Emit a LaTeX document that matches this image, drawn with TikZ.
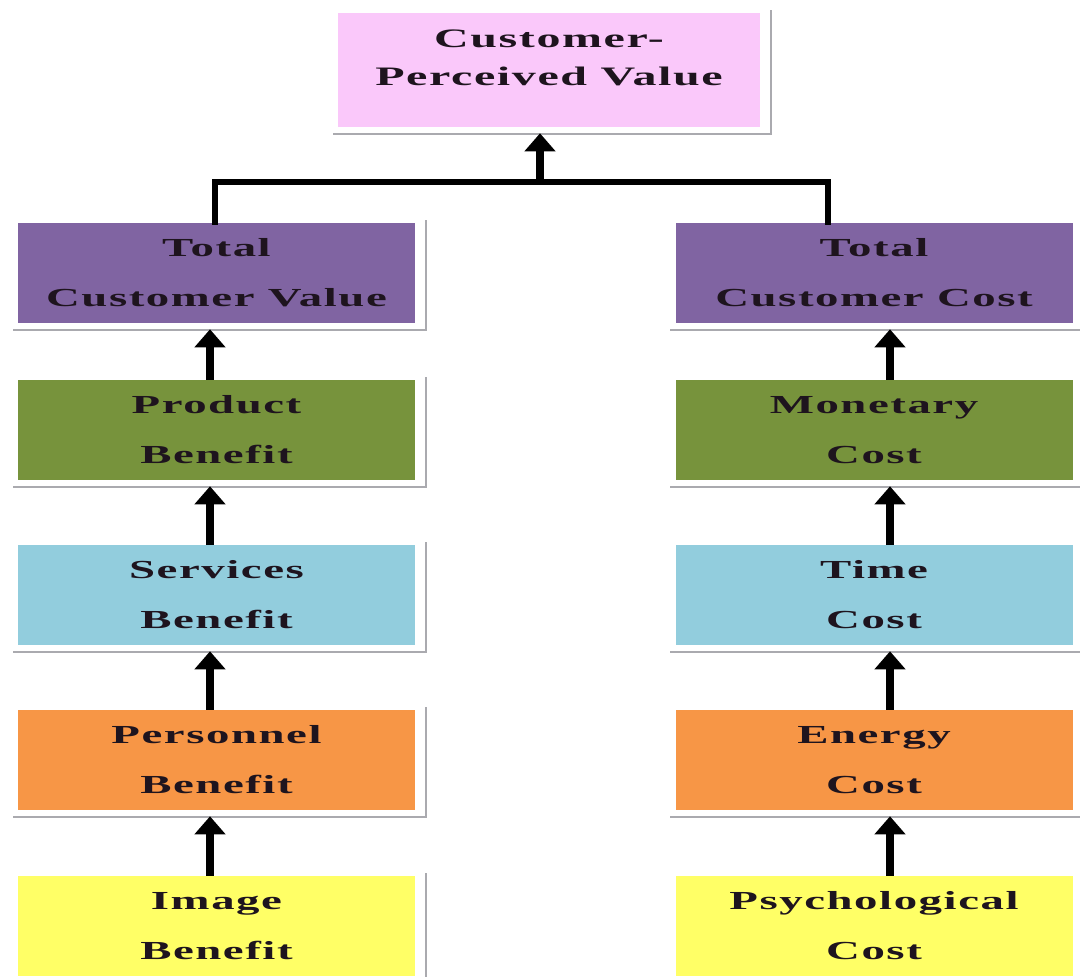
\documentclass[tikz,border=0pt]{standalone}
\usepackage{fontspec}
\setmainfont{Liberation Serif}
\newfontfamily\boxfont[FakeStretch=1.8,LetterSpace=6]{Liberation Serif}
\usetikzlibrary{arrows.meta}
\definecolor{cpink}{RGB}{250,200,250}
\definecolor{cpurple}{RGB}{128,100,162}
\definecolor{cgreen}{RGB}{119,147,60}
\definecolor{cblue}{RGB}{146,205,221}
\definecolor{corange}{RGB}{247,150,70}
\definecolor{cyellow}{RGB}{255,255,102}
\definecolor{ctext}{RGB}{30,20,30}
\definecolor{cshadow}{RGB}{170,170,175}
\pgfdeclarelayer{bg}
\pgfsetlayers{bg,main}
\tikzset{
  box/.style={rectangle, inner sep=0pt, minimum width=297.75pt, minimum height=75pt,
    align=center, text=ctext, font=\boxfont\bfseries\fontsize{19.5}{37.5}\selectfont},
  topbox/.style={rectangle, inner sep=0pt, minimum width=316.5pt, minimum height=85.5pt, fill=cpink},
  toptext/.style={inner sep=0pt, align=center, text=ctext,
    font=\boxfont\bfseries\fontsize{20}{29}\selectfont},
  upar/.style={line width=5.5pt, -{Triangle[width=22.5pt,length=13.5pt]}, shorten >=4.5pt},
  conn/.style={line width=4pt, line cap=rect}
}
\begin{document}
\begin{tikzpicture}[x=0.75pt,y=-0.75pt]
\useasboundingbox (0,0) rectangle (1080,976);
% top
\node[topbox] (cpv) at (549,70) {};
\node[toptext] (cpvt) at (549,58) {Customer-\\Perceived Value};
% left column
\node[box, fill=cpurple] (tcv) at (216.5,273) {Total\\Customer Value};
\node[box, fill=cgreen]  (pb)  at (216.5,430) {Product\\Benefit};
\node[box, fill=cblue]   (sb)  at (216.5,595) {Services\\Benefit};
\node[box, fill=corange] (peb) at (216.5,760) {Personnel\\Benefit};
\node[box, fill=cyellow] (ib)  at (216.5,926) {Image\\Benefit};
% right column
\node[box, fill=cpurple] (tcc) at (874,273) {Total\\Customer Cost};
\node[box, fill=cgreen]  (mc)  at (874,430) {Monetary\\Cost};
\node[box, fill=cblue]   (tc)  at (874,595) {Time\\Cost};
\node[box, fill=corange] (ec)  at (874,760) {Energy\\Cost};
\node[box, fill=cyellow] (pc)  at (874,926) {Psychological\\Cost};
% shadows / frames
\begin{pgfonlayer}{bg}
  \fill[white] (0,0) rectangle (1080,976);
  \foreach \n in {cpv,tcv,pb,sb,peb,ib,tcc,mc,tc,ec,pc}{
    \fill[cshadow] ([shift={(-5,8)}]\n.south west) rectangle ([shift={(12,-3)}]\n.north east);
    \fill[white] ([shift={(-5,6)}]\n.south west) rectangle ([shift={(10,-3)}]\n.north east);
  }
\end{pgfonlayer}
% connectors to top
\coordinate (j) at (540,182);
\coordinate (rj) at (828,182);
\draw[conn] ([shift={(-1.5,0)}]tcv.north) -- ([shift={(-1.5,0)}]tcv.north |- j) -- (rj) -- (rj |- tcc.north);
\draw[upar] (j) -- (j |- cpv.south);
% left arrows
\foreach \a/\b in {tcv/pb,pb/sb,sb/peb,peb/ib}{
  \draw[upar] ([shift={(-6.5,0)}]\b.north) -- ([shift={(-6.5,0)}]\a.south);
}
% right arrows
\foreach \a/\b in {tcc/mc,mc/tc,tc/ec,ec/pc}{
  \draw[upar] ([shift={(16,0)}]\b.north) -- ([shift={(16,0)}]\a.south);
}
\end{tikzpicture}
\end{document}
